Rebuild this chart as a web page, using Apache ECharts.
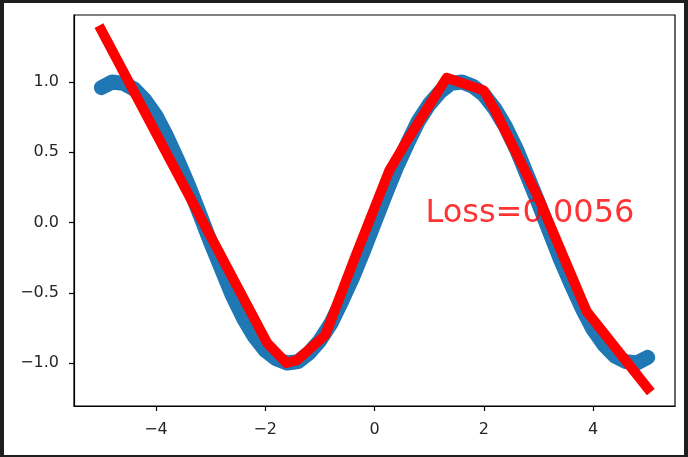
<!DOCTYPE html>
<html>
<head>
<meta charset="utf-8">
<script src="https://cdn.jsdelivr.net/npm/echarts@6/dist/echarts.min.js"></script>
<style>
  html, body { margin: 0; padding: 0; background: #1e1e1e; width: 688px; height: 457px; overflow: hidden; }
  #chart { position: absolute; left: 4px; top: 3px; width: 680px; height: 452px; background: #ffffff; }
</style>
</head>
<body>
<div id="chart"></div>
<script>
// Scatter samples (blue band)
const scatterX = [-5.0,-4.8,-4.6,-4.4,-4.2,-4.0,-3.8,-3.6,-3.4,-3.2,-3.0,-2.8,-2.6,-2.4,-2.2,-2.0,-1.8,-1.6,-1.4,-1.2,-1.0,-0.8,-0.6,-0.4,-0.2,0.0,0.2,0.4,0.6,0.8,1.0,1.2,1.4,1.6,1.8,2.0,2.2,2.4,2.6,2.8,3.0,3.2,3.4,3.6,3.8,4.0,4.2,4.4,4.6,4.8,5.0];
const scatterY = [0.96,1.00,0.99,0.95,0.87,0.76,0.61,0.44,0.26,0.06,-0.14,-0.33,-0.52,-0.68,-0.81,-0.91,-0.97,-1.00,-0.99,-0.93,-0.84,-0.72,-0.56,-0.39,-0.20,0.00,0.20,0.39,0.56,0.72,0.84,0.93,0.99,1.00,0.97,0.91,0.81,0.68,0.52,0.33,0.14,-0.06,-0.26,-0.44,-0.61,-0.76,-0.87,-0.95,-0.99,-1.00,-0.96];
// Prediction (red polyline) vertices
const predX = [-5.0,-1.96,-1.61,-1.42,-0.90,-0.33,0.27,0.59,0.88,1.32,2.0,2.23,3.02,3.88,5.0];
const predY = [1.37,-0.86,-1.00,-0.98,-0.80,-0.22,0.37,0.58,0.76,1.03,0.94,0.78,0.16,-0.63,-1.18];
// Axis ticks
const xTicks = [-4,-2,0,2,4];
const yTicks = [-1.0,-0.5,0.0,0.5,1.0];
const lossText = 'Loss=0.0056';
const lossPos = [0.95, 0.0];

const fmtX = v => String(v).replace('-', '\u2212');
const fmtY = v => Number(v).toFixed(1).replace('-', '\u2212');
const font = 'DejaVu Sans';

const chart = echarts.init(document.getElementById('chart'), null, { renderer: 'canvas' });
chart.setOption({
  animation: false,
  backgroundColor: '#ffffff',
  grid: { left: 70, top: 12, right: 9, bottom: 49, show: true, borderColor: '#000', borderWidth: 1.2, backgroundColor: 'transparent' },
  xAxis: {
    type: 'value', min: -5.5, max: 5.5,
    splitLine: { show: false },
    axisLine: { show: true, onZero: false, lineStyle: { color: '#000', width: 1.2 } },
    axisTick: { show: true, inside: false, length: 5, lineStyle: { color: '#000', width: 1.2 }, customValues: xTicks },
    axisLabel: { show: true, margin: 16, color: '#262626', fontFamily: font, fontSize: 16, customValues: xTicks, formatter: fmtX }
  },
  yAxis: {
    type: 'value', min: -1.306, max: 1.477,
    splitLine: { show: false },
    axisLine: { show: true, onZero: false, lineStyle: { color: '#000', width: 1.2 } },
    axisTick: { show: true, inside: false, length: 5, lineStyle: { color: '#000', width: 1.2 }, customValues: yTicks },
    axisLabel: { show: true, margin: 15, color: '#262626', fontFamily: font, fontSize: 16, customValues: yTicks, formatter: fmtY }
  },
  series: [
    {
      type: 'line', z: 2,
      data: scatterX.map((x, i) => [x, scatterY[i]]),
      showSymbol: false, symbol: 'none',
      lineStyle: { color: '#1f77b4', width: 15, cap: 'round', join: 'round' }
    },
    {
      type: 'line', z: 3,
      data: predX.map((x, i) => [x, predY[i]]),
      showSymbol: false, symbol: 'none',
      lineStyle: { color: '#ff0000', width: 10, cap: 'square', join: 'round' }
    },
    {
      type: 'scatter', z: 4,
      data: [lossPos],
      symbolSize: 0,
      label: {
        show: true, position: [0, 0], align: 'left', verticalAlign: 'bottom',
        formatter: lossText, color: '#ff0000', fontFamily: font, fontSize: 32,
        offset: [-1, 7]
      }
    }
  ]
});
</script>
</body>
</html>
